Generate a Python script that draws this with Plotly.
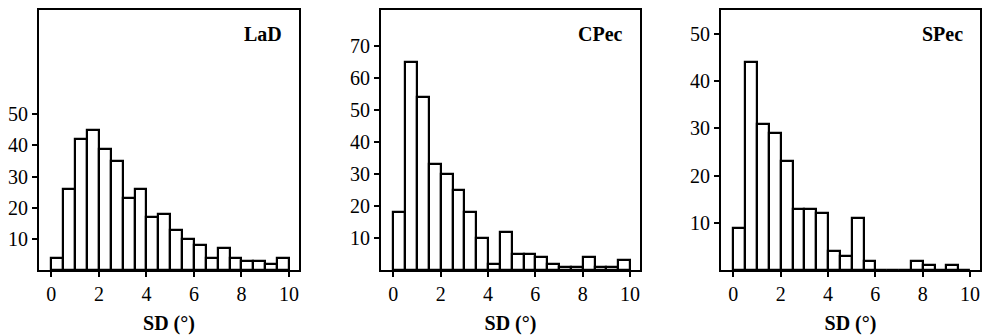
import plotly.graph_objects as go

bin_left = [0.0, 0.5, 1.0, 1.5, 2.0, 2.5, 3.0, 3.5, 4.0, 4.5,
            5.0, 5.5, 6.0, 6.5, 7.0, 7.5, 8.0, 8.5, 9.0, 9.5]
bin_width = 0.5

lad_counts = [4, 26, 42, 45, 39, 35, 23, 26, 17, 18, 13, 10, 8, 4, 7, 4, 3, 3, 2, 4]
cpec_counts = [18, 65, 54, 33, 30, 25, 18, 10, 2, 12, 5, 5, 4, 2, 1, 1, 4, 1, 1, 3]
spec_counts = [9, 44, 31, 29, 23, 13, 13, 12, 4, 3, 11, 2, 0, 0, 0, 2, 1, 0, 1, 0]

panel_titles = ["LaD", "CPec", "SPec"]
x_ticks = [0, 2, 4, 6, 8, 10]
y_ticks = [[10, 20, 30, 40, 50],
           [10, 20, 30, 40, 50, 60, 70],
           [10, 20, 30, 40, 50]]
y_max = [83.5, 81.3, 55.1]
x_title = "SD (°)"

W, H = 982, 335
x_doms_px = [(39, 299), (381, 640), (721, 980)]
top_px, bot_px = 10, 270
ydom = [1 - bot_px / H, 1 - top_px / H]

FONT = "Liberation Serif"
fig = go.Figure()
series = [lad_counts, cpec_counts, spec_counts]
for i, counts in enumerate(series):
    ax = "" if i == 0 else str(i + 1)
    fig.add_trace(go.Bar(
        x=bin_left, y=counts, width=bin_width, offset=0,
        marker=dict(color="white", line=dict(color="black", width=2.2)),
        xaxis="x" + ax, yaxis="y" + ax, showlegend=False,
    ))
    xd = [x_doms_px[i][0] / W, x_doms_px[i][1] / W]
    fig.layout["xaxis" + ax] = dict(
        domain=xd, range=[-0.52, 10.42], anchor="y" + ax,
        tickmode="array", tickvals=x_ticks, ticks="outside", ticklen=5,
        tickwidth=2, tickcolor="black", showline=True, linewidth=2,
        linecolor="black", mirror=True, showgrid=False, zeroline=False,
        tickfont=dict(family=FONT, size=20, color="black"),
        title=dict(text="<b>" + x_title + "</b>", standoff=12,
                   font=dict(family=FONT, size=20, color="black")),
    )
    fig.layout["yaxis" + ax] = dict(
        domain=ydom, range=[0, y_max[i]], anchor="x" + ax,
        tickmode="array", tickvals=y_ticks[i], ticks="outside", ticklen=5,
        tickwidth=2, tickcolor="black", showline=True, linewidth=2,
        linecolor="black", mirror=True, showgrid=False, zeroline=False,
        tickfont=dict(family=FONT, size=20, color="black"),
    )
    fig.add_annotation(
        text="<b>" + panel_titles[i] + "</b>", xref="paper", yref="paper",
        x=(x_doms_px[i][1] - 15) / W, y=1 - 34 / H, xanchor="right",
        yanchor="middle", showarrow=False,
        font=dict(family=FONT, size=20, color="black"),
    )

fig.update_layout(
    width=W, height=H, margin=dict(l=0, r=0, t=0, b=0),
    paper_bgcolor="white", plot_bgcolor="white", bargap=0,
)
fig.write_html("out.html")
